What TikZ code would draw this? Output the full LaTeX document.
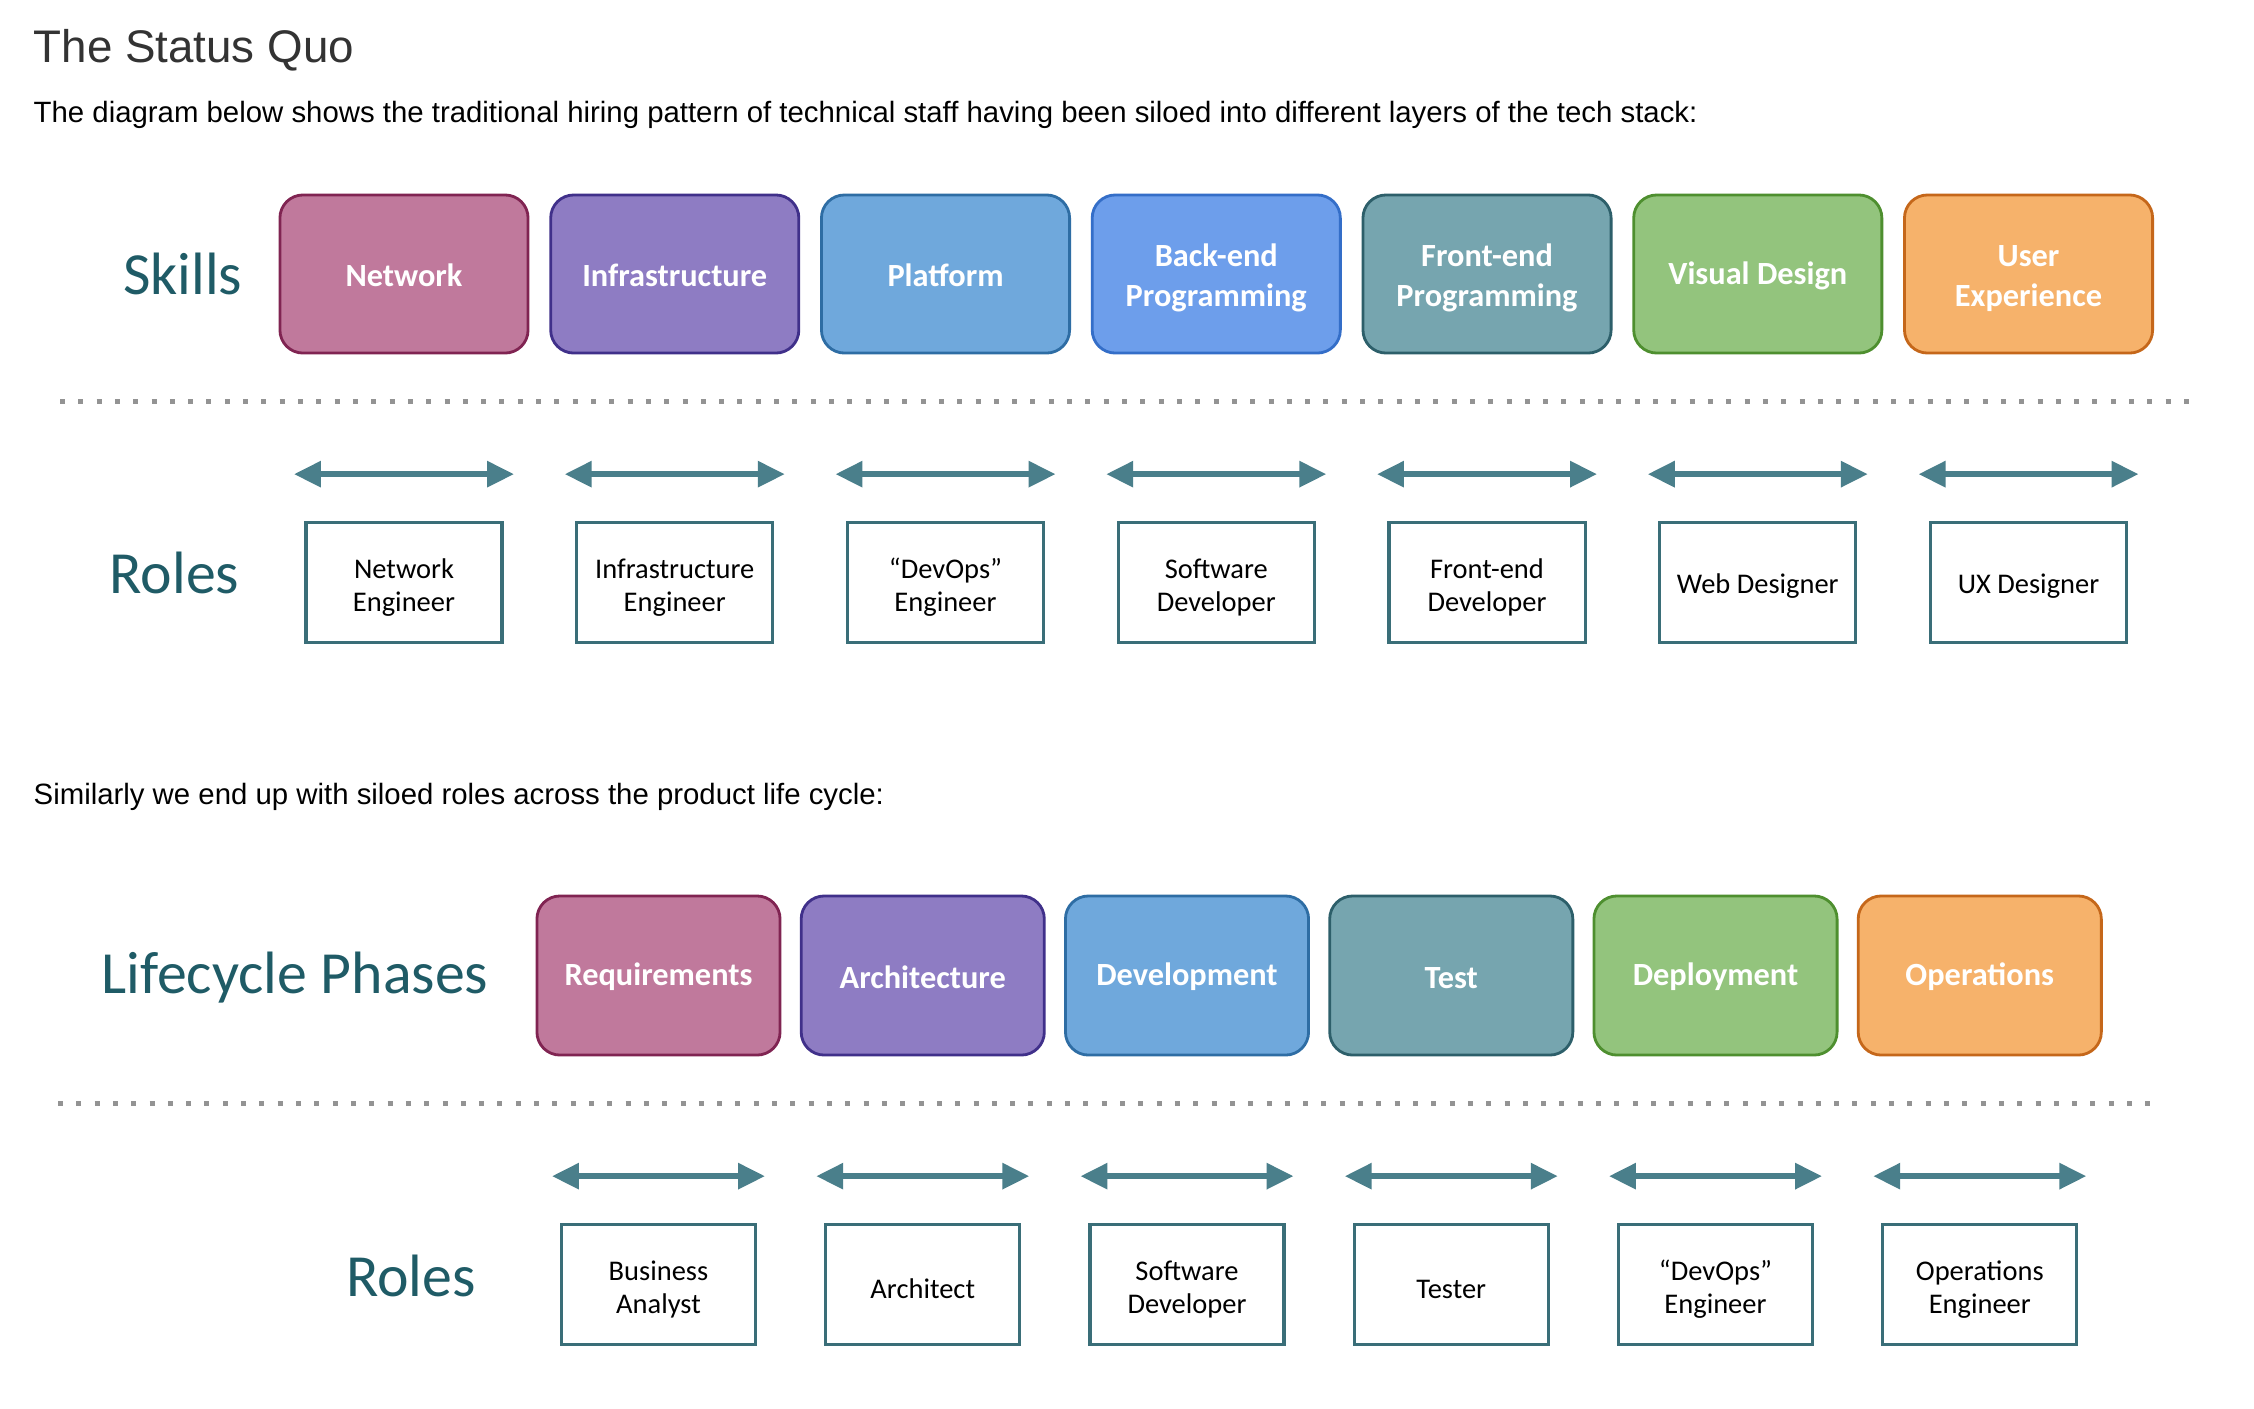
\documentclass[tikz,border=0pt]{standalone}
\usepackage{fontspec}
\setmainfont{Liberation Sans}
\newfontfamily\calibri{Carlito}
\usetikzlibrary{positioning,arrows.meta,calc}

\definecolor{labelteal}{RGB}{31,91,102}
\definecolor{arrowteal}{RGB}{74,127,139}
\definecolor{roleedge}{RGB}{58,110,120}
\definecolor{pinkfill}{RGB}{192,121,156}
\definecolor{pinkedge}{RGB}{128,36,82}
\definecolor{purplefill}{RGB}{142,124,195}
\definecolor{purpleedge}{RGB}{64,48,138}
\definecolor{bluefill}{RGB}{111,168,220}
\definecolor{blueedge}{RGB}{46,109,164}
\definecolor{brightfill}{RGB}{109,158,235}
\definecolor{brightedge}{RGB}{52,110,200}
\definecolor{tealfill}{RGB}{118,165,175}
\definecolor{tealedge}{RGB}{45,95,106}
\definecolor{greenfill}{RGB}{147,196,125}
\definecolor{greenedge}{RGB}{78,143,47}
\definecolor{orangefill}{RGB}{246,178,107}
\definecolor{orangeedge}{RGB}{197,103,26}

\begin{document}
\begin{tikzpicture}[x=0.01cm, y=-0.01cm,
    skill/.style={draw, line width=0.8pt, rounded corners=0.23cm, minimum width=2.48cm,
        minimum height=1.58cm, align=center, text=white, inner sep=0pt, outer sep=0pt,
        font=\calibri\bfseries\fontsize{9.2}{11.1}\selectfont,
        execute at begin node={\rule{0pt}{0.8em}}},
    skilltwo/.style={skill, font=\calibri\bfseries\fontsize{9.2}{11.3}\selectfont,
        execute at begin node={\rule{0pt}{20pt}}},
    phase/.style={skill, minimum width=2.43cm, minimum height=1.59cm},
    role/.style={draw=roleedge, line width=0.9pt, minimum width=1.96cm, minimum height=1.2cm,
        align=center, inner sep=0pt, outer sep=0pt, font=\calibri\fontsize{8.1}{9.2}\selectfont,
        execute at begin node={\rule{0pt}{1em}}},
    roletwo/.style={role, font=\calibri\fontsize{8.1}{9.4}\selectfont,
        execute at begin node={\rule{0pt}{18.2pt}}},
    rowlabel/.style={text=labelteal, inner sep=0pt, font=\calibri\fontsize{17}{20}\selectfont},
    biarrow/.style={draw=arrowteal, line width=0.6mm,
        {Triangle[length=2.7mm,width=2.5mm]}-{Triangle[length=2.7mm,width=2.5mm]}},
    sepline/.style={draw=gray!85, line width=0.5mm, dash pattern=on 0.5mm off 1.33mm},
    textline/.style={anchor=base west, inner sep=0pt}]

    \fill[white] (0,0) rectangle (2254,1408);
    \useasboundingbox (0,0) rectangle (2254,1408);

    % headings
    \node[textline, text=black!80, font=\fontsize{13}{15}\selectfont] (title) at (33,62) {The Status Quo};
    \node[textline, font=\fontsize{8.35}{10}\selectfont] (intro) at (33,122)
        {The diagram below shows the traditional hiring pattern of technical staff having been siloed into different layers of the tech stack:};
    \node[textline, font=\fontsize{8.35}{10}\selectfont] (similar) at (33,804)
        {Similarly we end up with siloed roles across the product life cycle:};

    % skills row
    \node[skill, fill=pinkfill, draw=pinkedge] (skNet) at (404,274) {Network};
    \node[skill, fill=purplefill, draw=purpleedge, right=0.226cm of skNet] (skInfra) {Infrastructure};
    \node[skill, fill=bluefill, draw=blueedge, right=0.226cm of skInfra] (skPlat) {Platform};
    \node[skilltwo, fill=brightfill, draw=brightedge, right=0.226cm of skPlat] (skBack) {Back-end\\Programming};
    \node[skilltwo, fill=tealfill, draw=tealedge, right=0.226cm of skBack] (skFront) {Front-end\\Programming};
    \node[skill, fill=greenfill, draw=greenedge, right=0.226cm of skFront] (skVis) {Visual Design};
    \node[skilltwo, fill=orangefill, draw=orangeedge, right=0.226cm of skVis] (skUx) {User\\Experience};
    \node[rowlabel, left=0.37cm of skNet] (skLabel) {Skills};

    \coordinate (sepAL) at (60,401);
    \coordinate (sepAR) at (2190,401);
    \draw[sepline] (sepAL) -- (sepAR);

    % roles for the skills
    \node[roletwo, below=1.69cm of skNet] (rlNet) {Network\\Engineer};
    \node[roletwo, below=1.69cm of skInfra] (rlInfra) {Infrastructure\\Engineer};
    \node[roletwo, below=1.69cm of skPlat] (rlPlat) {“DevOps”\\Engineer};
    \node[roletwo, below=1.69cm of skBack] (rlBack) {Software\\Developer};
    \node[roletwo, below=1.69cm of skFront] (rlFront) {Front-end\\Developer};
    \node[role, below=1.69cm of skVis] (rlWeb) {Web Designer};
    \node[role, below=1.69cm of skUx] (rlUx) {UX Designer};
    \node[rowlabel, left=0.66cm of rlNet, yshift=0.09cm] (rlLabel) {Roles};

    \foreach \r in {rlNet,rlInfra,rlPlat,rlBack,rlFront,rlWeb,rlUx}{
        \coordinate (\r-l) at ($(\r.north west)+(-12,-48)$);
        \coordinate (\r-r) at ($(\r.north east)+(12,-48)$);
        \draw[biarrow] (\r-l) -- (\r-r);
    }

    % lifecycle row
    \node[phase, fill=pinkfill, draw=pinkedge] (phReq) at (658.5,975.5) {Requirements};
    \node[phase, fill=purplefill, draw=purpleedge, right=0.211cm of phReq] (phArch) {Architecture};
    \node[phase, fill=bluefill, draw=blueedge, right=0.211cm of phArch] (phDev) {Development};
    \node[phase, fill=tealfill, draw=tealedge, right=0.211cm of phDev] (phTest) {Test};
    \node[phase, fill=greenfill, draw=greenedge, right=0.211cm of phTest] (phDep) {Deployment};
    \node[phase, fill=orangefill, draw=orangeedge, right=0.211cm of phDep] (phOps) {Operations};
    \node[rowlabel, left=0.48cm of phReq, yshift=-0.02cm] (phLabel) {Lifecycle Phases};

    \coordinate (sepBL) at (58,1103);
    \coordinate (sepBR) at (2150,1103);
    \draw[sepline] (sepBL) -- (sepBR);

    % roles for the phases
    \node[roletwo, minimum width=1.94cm, below=1.69cm of phReq] (prBa) {Business\\Analyst};
    \node[role, minimum width=1.94cm, below=1.69cm of phArch] (prArch) {Architect};
    \node[roletwo, minimum width=1.94cm, below=1.69cm of phDev] (prDev) {Software\\Developer};
    \node[role, minimum width=1.94cm, below=1.69cm of phTest] (prTest) {Tester};
    \node[roletwo, minimum width=1.94cm, below=1.69cm of phDep] (prDevops) {“DevOps”\\Engineer};
    \node[roletwo, minimum width=1.94cm, below=1.69cm of phOps] (prOps) {Operations\\Engineer};
    \node[rowlabel, left=0.85cm of prBa, yshift=0.08cm] (prLabel) {Roles};

    \foreach \r in {prBa,prArch,prDev,prTest,prDevops,prOps}{
        \coordinate (\r-l) at ($(\r.north west)+(-9.5,-48)$);
        \coordinate (\r-r) at ($(\r.north east)+(9.5,-48)$);
        \draw[biarrow] (\r-l) -- (\r-r);
    }

\end{tikzpicture}
\end{document}
